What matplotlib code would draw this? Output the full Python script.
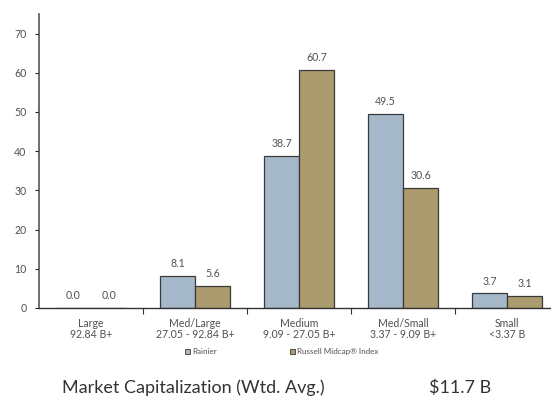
import matplotlib
matplotlib.use("Agg")
import matplotlib.pyplot as plt
import numpy as np
from matplotlib.patches import Rectangle

categories = ["Large\n92.84 B+", "Med/Large\n27.05 - 92.84 B+", "Medium\n9.09 - 27.05 B+",
              "Med/Small\n3.37 - 9.09 B+", "Small\n<3.37 B"]
rainier = [0.0, 8.1, 38.7, 49.5, 3.7]
russell = [0.0, 5.6, 60.7, 30.6, 3.1]
series_names = ["Rainier", "Russell Midcap\u00ae Index"]
yticks = [0, 10, 20, 30, 40, 50, 60, 70]

blue = "#A5B8CA"
tan = "#AB9B6E"
edge = "#3A3A3A"
txt = "#505050"

plt.rcParams["font.family"] = ["Lato", "DejaVu Sans"]

fig = plt.figure(figsize=(5.51, 4.01), dpi=100)
ax = fig.add_axes([39 / 551, 1 - 308 / 401, 520 / 551, 294 / 401])

x = np.arange(len(categories))
w = 0.337
b1 = ax.bar(x - w / 2, rainier, w, color=blue, edgecolor=edge, linewidth=0.9)
b2 = ax.bar(x + w / 2, russell, w, color=tan, edgecolor=edge, linewidth=0.9)

for bars, vals in ((b1, rainier), (b2, russell)):
    for r, v in zip(bars, vals):
        ax.annotate(f"{v:.1f}", (r.get_x() + r.get_width() / 2, v), xytext=(0, 5),
                    textcoords="offset points", ha="center", va="bottom",
                    fontsize=7.6, color=txt)

ax.set_xlim(-0.5, len(categories) - 0.5)
ax.set_ylim(0, 75)
ax.set_yticks(yticks)
ax.tick_params(axis="y", labelsize=7.6, colors="#222222", labelcolor=txt, length=3, width=0.8, pad=6)

ax.set_xticks(x)
ax.set_xticklabels(categories, fontsize=7.6, color=txt, linespacing=1.05)
ax.tick_params(axis="x", length=0, pad=7)
ax.set_xticks(x[:-1] + 0.5, minor=True)
ax.tick_params(axis="x", which="minor", length=4, width=0.8, color="#333333")

for s in ("top", "right"):
    ax.spines[s].set_visible(False)
ax.spines["left"].set_color("#555555")
ax.spines["left"].set_linewidth(1.2)
ax.spines["bottom"].set_color("#333333")
ax.spines["bottom"].set_linewidth(1.0)

# legend
for xpos, col, name in ((185, blue, series_names[0]), (290, tan, series_names[1])):
    fig.patches.append(Rectangle((xpos / 551, 1 - 354 / 401), 5 / 551, 5 / 401,
                                 transform=fig.transFigure, facecolor=col,
                                 edgecolor=edge, linewidth=0.6))
    fig.text((xpos + 7) / 551, 1 - 351.5 / 401, name, fontsize=5.8, color=txt,
             ha="left", va="center")

fig.text(62 / 551, 1 - 388 / 401, "Market Capitalization (Wtd. Avg.)", fontsize=13,
         color="#333333", ha="left", va="center")
fig.text(491 / 551, 1 - 388 / 401, "$11.7 B", fontsize=13, color="#333333",
         ha="right", va="center")

fig.savefig("out.png", dpi=100)
